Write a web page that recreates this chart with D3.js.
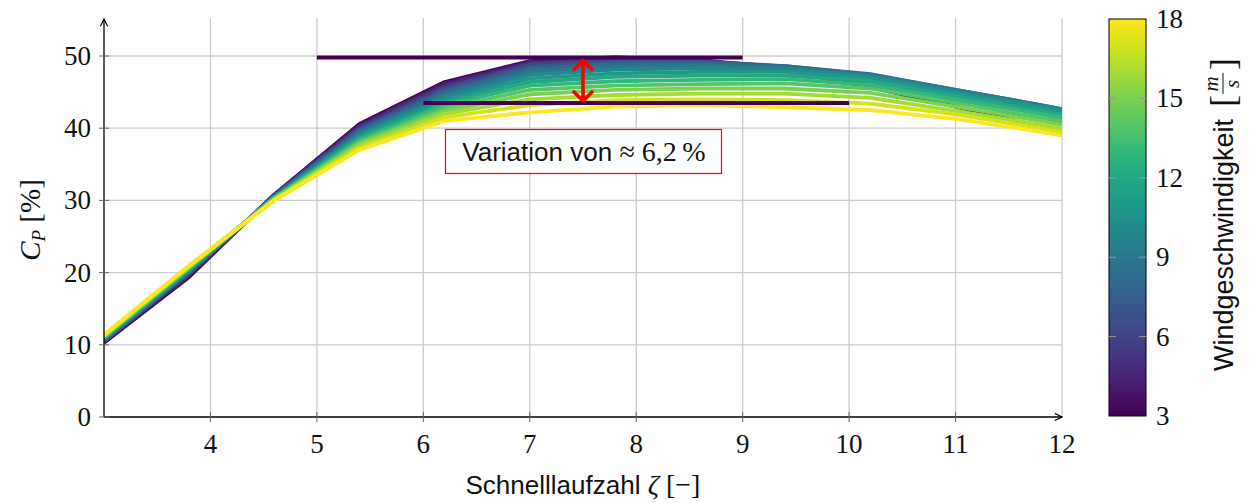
<!DOCTYPE html>
<html>
<head>
<meta charset="utf-8">
<script src="https://cdn.jsdelivr.net/npm/d3@7"></script>
<style>
  body { margin: 0; background: #fff; }
  svg { display: block; }
  .sans { font-family: "Liberation Sans", Arial, sans-serif; }
  .serif { font-family: "Liberation Serif", "Times New Roman", serif; }
</style>
</head>
<body>
<svg id="chart" width="1252" height="503"></svg>
<script>
// Schnelllaufzahl samples
var tsr = [3, 3.8, 4.6, 5.4, 6.2, 7.0, 7.8, 8.6, 9.4, 10.2, 11.0, 11.8, 12.6];
// wind speeds [m/s]
var windSpeeds = [3, 4, 5, 6, 7, 8, 9, 10, 11, 12, 13, 14, 15, 16, 17, 18];
// C_P [%] per wind speed (rows) over tsr (columns)
var cp = [
  [10.3, 19.4, 30.8, 40.6, 46.4, 49.3, 49.8, 49.4, 48.0, 45.7, 43.0, 40.2, 37.3],
  [10.4, 19.6, 30.8, 40.4, 46.2, 49.2, 49.7, 49.4, 48.2, 46.3, 43.8, 41.2, 38.6],
  [10.5, 19.8, 30.7, 40.2, 45.9, 49.0, 49.6, 49.4, 48.4, 46.8, 44.4, 42.0, 39.5],
  [10.5, 19.9, 30.7, 40.0, 45.6, 48.8, 49.4, 49.3, 48.5, 47.2, 44.9, 42.6, 40.2],
  [10.6, 20.0, 30.6, 39.8, 45.3, 48.5, 49.2, 49.2, 48.6, 47.4, 45.2, 43.0, 40.7],
  [10.7, 20.1, 30.6, 39.6, 45.0, 48.2, 48.9, 49.0, 48.6, 47.5, 45.3, 43.2, 41.0],
  [10.8, 20.2, 30.5, 39.3, 44.6, 47.8, 48.5, 48.7, 48.5, 47.4, 45.3, 43.2, 41.0],
  [10.8, 20.3, 30.5, 39.1, 44.3, 47.4, 48.1, 48.3, 48.2, 47.2, 45.1, 43.1, 40.9],
  [10.9, 20.4, 30.4, 38.9, 43.9, 46.9, 47.6, 47.8, 47.8, 46.9, 44.8, 42.8, 40.7],
  [11.0, 20.5, 30.4, 38.6, 43.5, 46.4, 47.1, 47.3, 47.3, 46.5, 44.4, 42.4, 40.3],
  [11.0, 20.6, 30.3, 38.4, 43.2, 45.9, 46.5, 46.7, 46.8, 46.0, 44.0, 42.0, 39.9],
  [11.1, 20.7, 30.3, 38.1, 42.8, 45.3, 45.9, 46.1, 46.2, 45.5, 43.5, 41.5, 39.4],
  [11.2, 20.8, 30.2, 37.9, 42.4, 44.7, 45.3, 45.5, 45.5, 44.9, 43.0, 41.0, 38.9],
  [11.3, 20.8, 30.1, 37.6, 42.0, 44.0, 44.6, 44.8, 44.8, 44.2, 42.4, 40.5, 38.3],
  [11.3, 20.9, 30.1, 37.3, 41.5, 43.2, 43.9, 44.0, 43.9, 43.4, 41.9, 40.0, 37.9],
  [11.4, 21.0, 30.0, 37.0, 41.0, 42.2, 43.0, 43.2, 42.9, 42.5, 41.3, 39.5, 37.4]
];
var xTicks = [4, 5, 6, 7, 8, 9, 10, 11, 12];
var yTicks = [0, 10, 20, 30, 40, 50];
var cbTicks = [3, 6, 9, 12, 15, 18];
// annotation: max / min C_P reference lines
var cpMax = 49.8, cpMin = 43.5;

var svg = d3.select("#chart");
var x = d3.scaleLinear().domain([3, 12]).range([104, 1062]);
var y = d3.scaleLinear().domain([0, 50]).range([417, 56]);
var color = d3.scaleSequential(d3.interpolateViridis).domain([3, 18]);

// grid
svg.append("g").selectAll("line").data(xTicks).enter().append("line")
    .attr("x1", x).attr("x2", x).attr("y1", y(0)).attr("y2", 18)
    .attr("stroke", "#cccccc").attr("stroke-width", 1.3);
svg.append("g").selectAll("line").data(yTicks.slice(1)).enter().append("line")
    .attr("x1", x(3)).attr("x2", x(12)).attr("y1", y).attr("y2", y)
    .attr("stroke", "#cccccc").attr("stroke-width", 1.3);

// curves
svg.append("clipPath").attr("id", "clip").append("rect")
    .attr("x", x(3)).attr("y", 0).attr("width", x(12) - x(3)).attr("height", y(0));
var line = d3.line().x(function(d, i) { return x(tsr[i]); }).y(function(d) { return y(d); });
svg.append("g").attr("clip-path", "url(#clip)")
  .selectAll("path").data(cp).enter().append("path")
    .attr("d", line)
    .attr("fill", "none")
    .attr("stroke", function(d, i) { return color(windSpeeds[i]); })
    .attr("stroke-width", 3.8)
    .attr("stroke-linejoin", "round");

// reference lines
svg.append("line").attr("x1", x(5)).attr("x2", x(9)).attr("y1", y(cpMax)).attr("y2", y(cpMax))
    .attr("stroke", color(3)).attr("stroke-width", 4);
svg.append("line").attr("x1", x(6)).attr("x2", x(10)).attr("y1", y(cpMin)).attr("y2", y(cpMin))
    .attr("stroke", color(3)).attr("stroke-width", 4);

// red double arrow
var ax = x(7.5), ay1 = y(cpMax) + 3, ay2 = y(cpMin) - 2;
svg.append("path")
    .attr("d", "M" + ax + "," + ay1 + "V" + ay2 +
      "M" + (ax - 9) + "," + (ay1 + 9) + "L" + ax + "," + ay1 + "L" + (ax + 9) + "," + (ay1 + 9) +
      "M" + (ax - 9) + "," + (ay2 - 9) + "L" + ax + "," + ay2 + "L" + (ax + 9) + "," + (ay2 - 9))
    .attr("fill", "none").attr("stroke", "#ff0000").attr("stroke-width", 3.6)
    .attr("stroke-linecap", "round").attr("stroke-linejoin", "round");

// annotation box
svg.append("rect").attr("x", 445.5).attr("y", 129.5).attr("width", 276).attr("height", 44)
    .attr("fill", "#ffffff").style("stroke", "rgb(255,0,0)").style("stroke-width", "1.2px");
var ann = svg.append("text").attr("x", 584).attr("y", 161).attr("text-anchor", "middle")
    .attr("font-size", 26).attr("fill", "#111");
ann.append("tspan").attr("class", "sans").text("Variation von ");
ann.append("tspan").attr("class", "serif").attr("font-size", 28).text("\u2248 6,2\u2009%");

// axes lines with arrows
svg.append("defs").append("marker").attr("id", "arr").attr("viewBox", "0 0 10 10")
    .attr("refX", 9).attr("refY", 5).attr("markerWidth", 9).attr("markerHeight", 9)
    .attr("markerUnits", "userSpaceOnUse").attr("orient", "auto")
  .append("path").attr("d", "M1,1 L9,5 L1,9").attr("fill", "none").attr("stroke", "#000").attr("stroke-width", 1.3);
svg.append("line").attr("x1", x(3)).attr("x2", x(12)).attr("y1", y(0)).attr("y2", y(0))
    .attr("stroke", "#000").attr("stroke-width", 1.3).attr("marker-end", "url(#arr)");
svg.append("line").attr("x1", x(3)).attr("x2", x(3)).attr("y1", y(0)).attr("y2", 19)
    .attr("stroke", "#000").attr("stroke-width", 1.3).attr("marker-end", "url(#arr)");

// ticks
svg.append("g").selectAll("line").data(xTicks.slice(0, -1)).enter().append("line")
    .attr("x1", x).attr("x2", x).attr("y1", y(0) - 5).attr("y2", y(0) + 5)
    .attr("stroke", "#666").attr("stroke-width", 1);
svg.append("g").selectAll("line").data(yTicks).enter().append("line")
    .attr("x1", x(3) - 5).attr("x2", x(3) + 5).attr("y1", y).attr("y2", y)
    .attr("stroke", "#666").attr("stroke-width", 1);

// tick labels
svg.append("g").selectAll("text").data(xTicks).enter().append("text")
    .attr("class", "serif").attr("x", x).attr("y", 453).attr("text-anchor", "middle")
    .attr("font-size", 27).attr("fill", "#111").text(function(d) { return d; });
svg.append("g").selectAll("text").data(yTicks).enter().append("text")
    .attr("class", "serif").attr("x", 91).attr("y", function(d) { return y(d) + 9; })
    .attr("text-anchor", "end").attr("font-size", 27).attr("fill", "#111")
    .text(function(d) { return d; });

// axis titles
var xt = svg.append("text").attr("x", 583).attr("y", 494).attr("text-anchor", "middle")
    .attr("font-size", 26).attr("fill", "#111");
xt.append("tspan").attr("class", "sans").text("Schnelllaufzahl ");
xt.append("tspan").attr("class", "serif").attr("font-style", "italic").attr("font-size", 28).text("\u03b6");
xt.append("tspan").attr("class", "serif").attr("font-size", 28).text(" [\u2212]");

var yt = svg.append("text").attr("transform", "translate(40,220) rotate(-90)")
    .attr("text-anchor", "middle").attr("font-size", 29).attr("fill", "#111").attr("class", "serif");
yt.append("tspan").attr("font-style", "italic").text("C");
yt.append("tspan").attr("font-style", "italic").attr("font-size", 19).attr("dy", 5).text("P");
yt.append("tspan").attr("dy", -5).text(" [%]");

// colorbar
var cbY = d3.scaleLinear().domain([3, 18]).range([416, 19]);
var grad = svg.append("defs").append("linearGradient").attr("id", "cbgrad")
    .attr("x1", 0).attr("y1", 1).attr("x2", 0).attr("y2", 0);
d3.range(0, 1.0001, 0.05).forEach(function(t) {
  grad.append("stop").attr("offset", t).attr("stop-color", d3.interpolateViridis(t));
});
svg.append("rect").attr("x", 1109).attr("y", cbY(18)).attr("width", 37).attr("height", cbY(3) - cbY(18))
    .attr("fill", "url(#cbgrad)").attr("stroke", "#000").attr("stroke-width", 1);
var cbt = svg.append("g");
cbt.selectAll("line.l").data(cbTicks.slice(1, -1)).enter().append("line")
    .attr("x1", 1109).attr("x2", 1116).attr("y1", cbY).attr("y2", cbY)
    .attr("stroke", "#999").attr("stroke-width", 1);
cbt.selectAll("line.r").data(cbTicks.slice(1, -1)).enter().append("line")
    .attr("x1", 1139).attr("x2", 1146).attr("y1", cbY).attr("y2", cbY)
    .attr("stroke", "#999").attr("stroke-width", 1);
cbt.selectAll("text").data(cbTicks).enter().append("text")
    .attr("class", "serif").attr("x", 1156).attr("y", function(d) { return cbY(d) + 9; })
    .attr("font-size", 27).attr("fill", "#111").text(function(d) { return d; });

// colorbar label
var cl = svg.append("g").attr("transform", "translate(1233,371) rotate(-90)");
var clt = cl.append("text").attr("class", "sans").attr("x", 0).attr("y", 0)
    .attr("font-size", 27).attr("fill", "#111").text("Windgeschwindigkeit");
var L = clt.node().getComputedTextLength();
var fx = L + 12;
cl.append("text").attr("class", "serif").attr("x", fx).attr("y", 2).attr("font-size", 36)
    .attr("fill", "#111").text("[");
cl.append("text").attr("class", "serif").attr("font-style", "italic").attr("x", fx + 23).attr("y", -15)
    .attr("text-anchor", "middle").attr("font-size", 21).attr("fill", "#111").text("m");
cl.append("line").attr("x1", fx + 13).attr("x2", fx + 34).attr("y1", -10).attr("y2", -10)
    .attr("stroke", "#111").attr("stroke-width", 1);
cl.append("text").attr("class", "serif").attr("font-style", "italic").attr("x", fx + 23).attr("y", 6)
    .attr("text-anchor", "middle").attr("font-size", 21).attr("fill", "#111").text("s");
cl.append("text").attr("class", "serif").attr("x", fx + 37).attr("y", 2).attr("font-size", 36)
    .attr("fill", "#111").text("]");
</script>
</body>
</html>
